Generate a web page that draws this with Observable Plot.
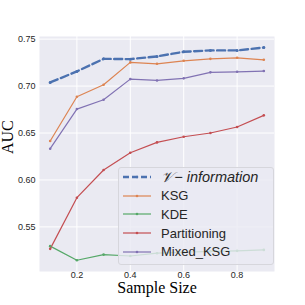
<!DOCTYPE html>
<html>
<head>
<meta charset="utf-8">
<script src="https://cdn.jsdelivr.net/npm/d3@7"></script>
<script src="https://cdn.jsdelivr.net/npm/@observablehq/plot@0.6"></script>
<style>
  html, body { margin: 0; padding: 0; background: #fff; }
  #wrap { position: relative; width: 305px; height: 305px; }
  #legend {
    position: absolute; left: 118px; top: 167px; width: 154px; height: 96px;
    background: rgba(234,234,242,0.8); border: 1px solid #d6d6dc; border-radius: 3px;
    box-sizing: content-box;
  }
  .row { position: absolute; left: 0; height: 18px; display: flex; align-items: center;
    font: 13px "Liberation Sans", Arial, sans-serif; color: #262626; white-space: nowrap; }
  .row svg { margin-left: 4px; margin-right: 10px; }
</style>
</head>
<body>
<div id="wrap"><div id="legend"></div></div>
<script>
const sampleSizes = [0.1, 0.2, 0.3, 0.4, 0.5, 0.6, 0.7, 0.8, 0.9];
const vInformation = [0.7039, 0.7156, 0.7290, 0.7287, 0.7316, 0.7365, 0.7380, 0.7380, 0.7411];
const ksg          = [0.6415, 0.6886, 0.7014, 0.7252, 0.7237, 0.7269, 0.7290, 0.7301, 0.7280];
const kde          = [0.5295, 0.5145, 0.5205, 0.5190, 0.5220, 0.5230, 0.5240, 0.5245, 0.5255];
const partitioning = [0.5266, 0.5811, 0.6106, 0.6290, 0.6400, 0.6460, 0.6500, 0.6564, 0.6688];
const mixedKsg     = [0.6333, 0.6755, 0.6854, 0.7074, 0.7060, 0.7082, 0.7146, 0.7152, 0.7160];
const seriesNames  = ["V-information", "KSG", "KDE", "Partitioning", "Mixed_KSG"];
const seriesColors = ["#4C72B0", "#DD8452", "#55A868", "#C44E52", "#8172B3"];
const xTicks = [0.2, 0.4, 0.6, 0.8];
const yTicks = [0.55, 0.60, 0.65, 0.70, 0.75];
const xLabel = "Sample Size";
const yLabel = "AUC";

const allSeries = [vInformation, ksg, kde, partitioning, mixedKsg];
const rows = [];
seriesNames.forEach((name, i) => {
  sampleSizes.forEach((s, j) => rows.push({series: name, x: s, y: allSeries[i][j]}));
});
const dashed = rows.filter(d => d.series === "V-information");
const solid = rows.filter(d => d.series !== "V-information");

const chart = Plot.plot({
  width: 305, height: 305,
  marginLeft: 39, marginRight: 31, marginTop: 36, marginBottom: 34,
  style: {background: "transparent", fontFamily: "'Liberation Sans', Arial, sans-serif"},
  x: {domain: [0.06, 0.94]},
  y: {domain: [0.5025, 0.7528]},
  color: {domain: seriesNames, range: seriesColors},
  marks: [
    Plot.frame({fill: "#EAEAF2", stroke: null}),
    Plot.gridX(xTicks, {stroke: "#fff", strokeOpacity: 1, strokeWidth: 1}),
    Plot.gridY(yTicks, {stroke: "#fff", strokeOpacity: 1, strokeWidth: 1}),
    Plot.axisX(xTicks, {tickSize: 0, tickPadding: 0, fontSize: 9, fill: "#262626", label: null, tickFormat: d3.format(".1f")}),
    Plot.axisY(yTicks, {tickSize: 0, tickPadding: 4, fontSize: 9, fill: "#262626", label: null, tickFormat: d3.format(".2f")}),
    Plot.line(solid, {x: "x", y: "y", z: "series", stroke: "series", strokeWidth: 1.2}),
    Plot.dot(solid, {x: "x", y: "y", fill: "series", r: 1.3}),
    Plot.line(dashed, {x: "x", y: "y", stroke: "series", strokeWidth: 2.4, strokeDasharray: "8,3.5"}),
    Plot.dot(dashed, {x: "x", y: "y", fill: "series", r: 1.5}),
    Plot.text([xLabel], {frameAnchor: "bottom", dy: 21, text: d => d, fontSize: 16, fontFamily: "'Liberation Serif', 'Times New Roman', serif", fill: "#000"}),
    Plot.text([yLabel], {frameAnchor: "left", dx: -32, rotate: -90, text: d => d, fontSize: 16, fontFamily: "'Liberation Serif', 'Times New Roman', serif", fill: "#000"})
  ]
});
const wrap = document.getElementById("wrap");
wrap.insertBefore(chart, wrap.firstChild);

const legend = document.getElementById("legend");
seriesNames.forEach((name, i) => {
  const row = document.createElement("div");
  row.className = "row";
  row.style.top = (0 + i * 18.7) + "px";
  const isDash = i === 0;
  const sym = `<svg width="28" height="6" viewBox="0 0 28 6"><line x1="0" y1="3" x2="28" y2="3" stroke="${seriesColors[i]}" stroke-width="${isDash ? 2.4 : 1.2}" ${isDash ? 'stroke-dasharray="6,3"' : ''}/><circle cx="14" cy="3" r="1.3" fill="${seriesColors[i]}"/></svg>`;
  const label = isDash
    ? `<span style="font-size:14.5px"><span style="font-family:'DejaVu Serif',serif;font-style:italic">𝒱</span><span style="font-style:italic">&#8202;− information</span></span>`
    : `<span>${name}</span>`;
  row.innerHTML = sym + label;
  legend.appendChild(row);
});
</script>
</body>
</html>
